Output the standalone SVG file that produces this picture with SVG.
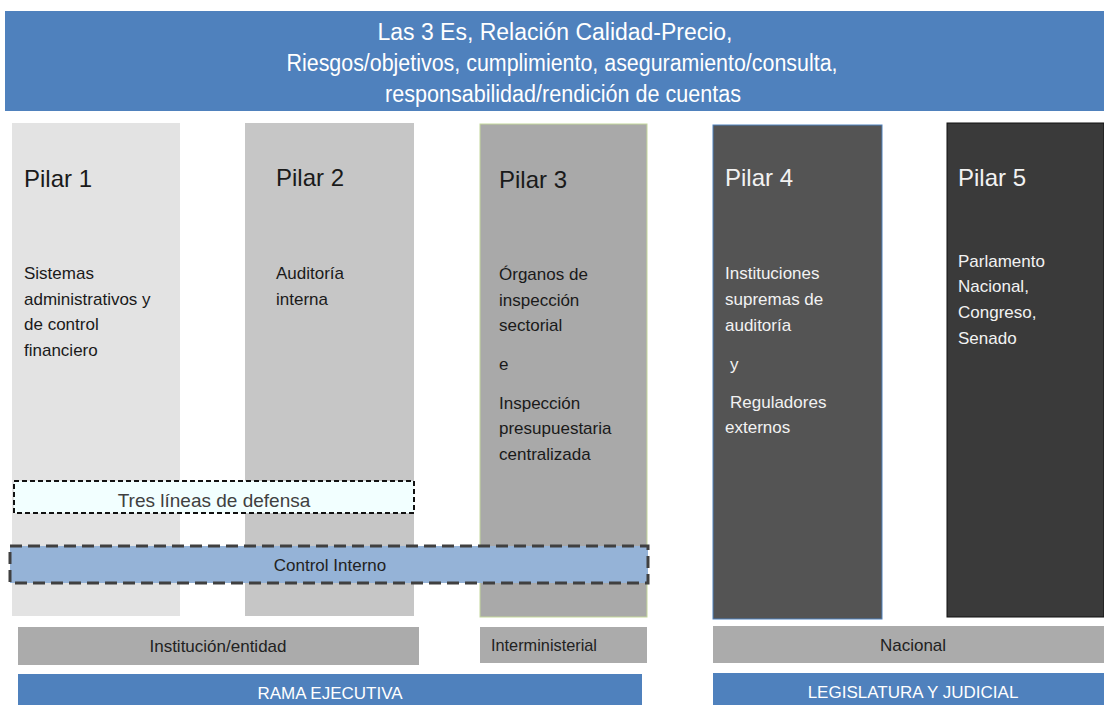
<svg xmlns="http://www.w3.org/2000/svg" width="1104" height="705" viewBox="0 0 1104 705">
<style>
text{font-family:"Liberation Sans",Arial,sans-serif}
.t{font-size:23px;fill:#fff;text-anchor:middle}
.h{font-size:24px}
.b{font-size:17px}
.dk{fill:#1a1a1a}
.lt{fill:#f2f2f2}
.lab{font-size:17px;fill:#222;text-anchor:middle}
.wl{font-size:17px;fill:#fff;text-anchor:middle}
</style>
<rect width="1104" height="705" fill="#fff"/>
<g id="banner">
<rect x="5" y="11" width="1099" height="100" fill="#4F81BD"/>
<text class="t" x="555" y="40" textLength="355" lengthAdjust="spacingAndGlyphs">Las 3 Es, Relación Calidad-Precio,</text>
<text class="t" x="562" y="71" textLength="551" lengthAdjust="spacingAndGlyphs">Riesgos/objetivos, cumplimiento, aseguramiento/consulta,</text>
<text class="t" x="563" y="102" textLength="356" lengthAdjust="spacingAndGlyphs">responsabilidad/rendición de cuentas</text>
</g>
<g id="pilar1">
<rect x="12" y="123" width="168" height="493" fill="#E3E3E3"/>
<text class="h dk" x="24" y="187">Pilar 1</text>
<text class="b dk" x="24" y="279">Sistemas</text>
<text class="b dk" x="24" y="305">administrativos y</text>
<text class="b dk" x="24" y="330">de control</text>
<text class="b dk" x="24" y="356">financiero</text>
</g>
<g id="pilar2">
<rect x="245" y="123" width="169" height="493" fill="#C6C6C6"/>
<text class="h dk" x="276" y="186">Pilar 2</text>
<text class="b dk" x="276" y="279">Auditoría</text>
<text class="b dk" x="276" y="305">interna</text>
</g>
<g id="pilar3">
<rect x="480" y="124" width="167" height="493" fill="#A9A9A9" stroke="#C4D79B" stroke-width="1"/>
<text class="h dk" x="499" y="188">Pilar 3</text>
<text class="b dk" x="499" y="280">Órganos de</text>
<text class="b dk" x="499" y="306">inspección</text>
<text class="b dk" x="499" y="331">sectorial</text>
<text class="b dk" x="499" y="370">e</text>
<text class="b dk" x="499" y="409">Inspección</text>
<text class="b dk" x="499" y="434">presupuestaria</text>
<text class="b dk" x="499" y="460">centralizada</text>
</g>
<g id="pilar4">
<rect x="713" y="125" width="169" height="494" fill="#545454" stroke="#4F81BD" stroke-width="1"/>
<text class="h lt" x="725" y="186">Pilar 4</text>
<text class="b lt" x="725" y="279">Instituciones</text>
<text class="b lt" x="725" y="305">supremas de</text>
<text class="b lt" x="725" y="331">auditoría</text>
<text class="b lt" x="730" y="370">y</text>
<text class="b lt" x="730" y="408">Reguladores</text>
<text class="b lt" x="725" y="433">externos</text>
</g>
<g id="pilar5">
<rect x="947" y="123" width="157" height="494" fill="#3A3A3A" stroke="#111" stroke-width="1"/>
<text class="h lt" x="958" y="186">Pilar 5</text>
<text class="b lt" x="958" y="267">Parlamento</text>
<text class="b lt" x="958" y="292">Nacional,</text>
<text class="b lt" x="958" y="318">Congreso,</text>
<text class="b lt" x="958" y="344">Senado</text>
</g>
<g id="tres-lineas">
<rect x="14" y="481" width="400" height="32" fill="#F2FFFF" stroke="#111" stroke-width="2" stroke-dasharray="5,3"/>
<text x="214" y="507" font-size="19" fill="#404040" text-anchor="middle">Tres líneas de defensa</text>
</g>
<g id="control-interno">
<rect x="10" y="546" width="638" height="37" fill="#95B3D7" stroke="#404040" stroke-width="3" stroke-dasharray="12,6"/>
<text x="330" y="571" font-size="17" fill="#222" text-anchor="middle">Control Interno</text>
</g>
<g id="institucion">
<rect x="18" y="627" width="401" height="38" fill="#ABABAB"/>
<text class="lab" x="218" y="652">Institución/entidad</text>
</g>
<g id="interministerial">
<rect x="480" y="627" width="167" height="36" fill="#ABABAB"/>
<text class="lab" x="491" y="651" style="text-anchor:start" textLength="106" lengthAdjust="spacingAndGlyphs">Interministerial</text>
</g>
<g id="nacional">
<rect x="713" y="626" width="391" height="37" fill="#ABABAB"/>
<text class="lab" x="913" y="651">Nacional</text>
</g>
<g id="rama-ejecutiva">
<rect x="18" y="674" width="624" height="31" fill="#4F81BD"/>
<text class="wl" x="330" y="699">RAMA EJECUTIVA</text>
</g>
<g id="legislatura">
<rect x="713" y="673" width="391" height="32" fill="#4F81BD"/>
<text class="wl" x="913" y="698">LEGISLATURA Y JUDICIAL</text>
</g>
<g id="connectors"></g>
</svg>
